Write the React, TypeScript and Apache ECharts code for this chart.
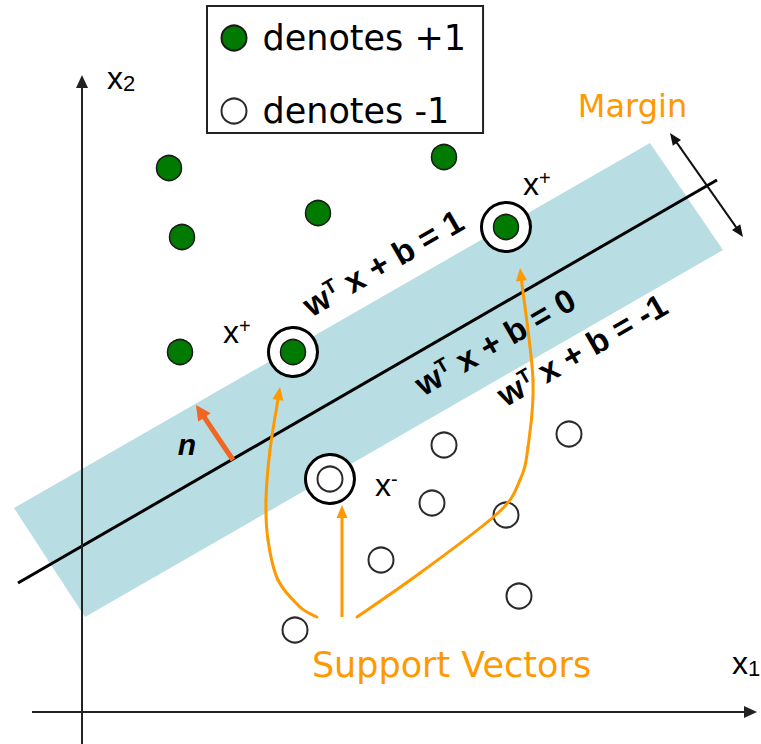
import React, { useEffect, useRef } from 'react';
import * as echarts from 'echarts';

// ---- data (units: 1 = 10 px of the original figure, origin at the axes crossing) ----
const positiveClass = [[8.7, 54.4], [10.0, 47.5], [9.8, 36.0], [23.6, 49.9], [36.2, 55.5], [21.1, 36.0], [42.4, 48.5]];
const negativeClass = [[36.2, 26.7], [48.7, 27.8], [35.0, 20.9], [42.4, 19.7], [29.9, 15.2], [43.7, 11.6], [21.3, 8.2], [24.8, 23.3]];
const supportVectors = [[21.1, 36.0], [42.4, 48.5], [24.8, 23.3]];
const hyperplane = [[-6.4, 12.9], [63.5, 53.2]];
const marginBand = [[-6.8, 20.4], [56.8, 56.9], [64.1, 46.2], [0.3, 9.5]];

const x1Axis = [[-5, 0], [67.5, 0]];
const x2Axis = [[0, -3.2], [0, 63.7]];
const marginArrow = [[58.8, 57.9], [66.1, 47.5]];
const normalVector = [[15.1, 25.2], [11.4, 30.7]];
const svArrowLeft = [[23.5, 9.5], [21.8, 10.5], [19.6, 13.2], [18.6, 17.2], [18.4, 21.2], [18.8, 26.2], [19.8, 32.5]];
const svArrowMiddle = [[26.0, 9.5], [26.0, 20.7]];
const svArrowRight = [[27.5, 9.5], [33.8, 13.9], [41.6, 19.9], [43.8, 23.2], [44.6, 26.5], [45.1, 33.2], [43.8, 44.4]];

const planeValues = ['1', '0', '-1'];
const planeLabelPos = [[30.1, 44.9], [41.3, 37.0], [50.0, 36.2]];
const svLabelSigns = ['+', '+', '-'];
const svLabelPos = [[44.1, 52.8], [14.1, 38.0], [29.3, 22.7]];
const axisIndices = ['1', '2'];
const axisNamePos = [[65.0, 4.9], [2.5, 63.4]];
const normalLabel = 'n';
const normalLabelPos = [10.5, 26.8];
const marginLabel = 'Margin';
const marginLabelPos = [55.05, 60.6];
const svCaption = 'Support Vectors';
const svCaptionPos = [36.95, 4.7];
const legendNames = ['denotes +1', 'denotes -1'];

// ---- styles ----
const ORANGE = '#FF9900';
const arrowPaths = [x1Axis, x2Axis, marginArrow, normalVector, svArrowLeft, svArrowMiddle, svArrowRight];
const arrowStyles = [
  { color: '#222', width: 2, head: 13, headW: 12, both: false, smooth: false },
  { color: '#222', width: 2, head: 13, headW: 12, both: false, smooth: false },
  { color: '#111', width: 2, head: 12, headW: 10, both: true, smooth: false },
  { color: '#F26522', width: 5, head: 15, headW: 15, both: false, smooth: false },
  { color: ORANGE, width: 3, head: 13, headW: 11, both: false, smooth: true },
  { color: ORANGE, width: 3, head: 13, headW: 11, both: false, smooth: false },
  { color: ORANGE, width: 3, head: 13, headW: 11, both: false, smooth: true },
];

const BOLD = { fontFamily: 'Liberation Sans', fontWeight: 'bold', fill: '#000' };
const PLAIN = { fontFamily: 'Liberation Sans', fill: '#000' };

type TextItem = { pos: number[]; rotation: number; style: any };

const textItems: TextItem[] = [];
planeValues.forEach((v, i) => {
  textItems.push({
    pos: planeLabelPos[i],
    rotation: Math.PI / 6,
    style: {
      text: `{w|w}{t|T}{e| x + b = ${v}}`,
      align: 'center',
      verticalAlign: 'middle',
      rich: {
        w: { ...BOLD, fontSize: 33, lineHeight: 33 },
        t: { ...BOLD, fontSize: 20, lineHeight: 20, verticalAlign: 'top' },
        e: { ...BOLD, fontSize: 33, lineHeight: 33 },
      },
    },
  });
});
svLabelSigns.forEach((s, i) => {
  textItems.push({
    pos: svLabelPos[i],
    rotation: 0,
    style: {
      text: `{x|x}{s|${s}}`,
      align: 'left',
      verticalAlign: 'middle',
      rich: {
        x: { ...PLAIN, fontSize: 32, lineHeight: 32 },
        s: { ...PLAIN, fontSize: 20, lineHeight: 26, verticalAlign: 'top' },
      },
    },
  });
});
axisIndices.forEach((s, i) => {
  textItems.push({
    pos: axisNamePos[i],
    rotation: 0,
    style: {
      text: `{x|x}{d|${s}}`,
      align: 'left',
      verticalAlign: 'middle',
      rich: {
        x: { ...PLAIN, fontSize: 32, lineHeight: 32 },
        d: { ...PLAIN, fontSize: 22, lineHeight: 8, verticalAlign: 'bottom' },
      },
    },
  });
});
textItems.push({
  pos: normalLabelPos,
  rotation: 0,
  style: { text: normalLabel, align: 'center', verticalAlign: 'middle', fontFamily: 'Liberation Sans', fontWeight: 'bold', fontStyle: 'italic', fontSize: 30, fill: '#000' },
});
textItems.push({
  pos: marginLabelPos,
  rotation: 0,
  style: { text: marginLabel, align: 'center', verticalAlign: 'middle', fontFamily: 'DejaVu Sans', fontSize: 32, fill: ORANGE },
});
textItems.push({
  pos: svCaptionPos,
  rotation: 0,
  style: { text: svCaption, align: 'center', verticalAlign: 'middle', fontFamily: 'DejaVu Sans', fontSize: 35, fill: ORANGE },
});

function renderBand(_params: any, api: any) {
  return {
    type: 'polygon',
    shape: { points: marginBand.map((p) => api.coord(p)) },
    style: { fill: '#b8dee3' },
  };
}

function renderArrow(params: any, api: any) {
  const st = arrowStyles[params.dataIndex];
  const pts = arrowPaths[params.dataIndex].map((p) => api.coord(p));
  const n = pts.length;
  const head = (tip: number[], prev: number[]) => {
    const dx = tip[0] - prev[0];
    const dy = tip[1] - prev[1];
    const len = Math.sqrt(dx * dx + dy * dy) || 1;
    const ux = dx / len;
    const uy = dy / len;
    const bx = tip[0] - ux * st.head;
    const by = tip[1] - uy * st.head;
    const hw = st.headW / 2;
    return {
      tri: [tip, [bx - uy * hw, by + ux * hw], [bx + uy * hw, by - ux * hw]],
      cut: [tip[0] - ux * st.head * 0.7, tip[1] - uy * st.head * 0.7],
    };
  };
  const endHead = head(pts[n - 1], pts[n - 2]);
  const linePts = pts.slice();
  linePts[n - 1] = endHead.cut;
  const children: any[] = [];
  let startHead: any = null;
  if (st.both) {
    startHead = head(pts[0], pts[1]);
    linePts[0] = startHead.cut;
  }
  if (st.smooth) {
    // Catmull-Rom spline through the read points, drawn as cubic Bezier pieces
    const m = linePts.length;
    for (let i = 0; i < m - 1; i++) {
      const p0 = linePts[Math.max(0, i - 1)];
      const p1 = linePts[i];
      const p2 = linePts[i + 1];
      const p3 = linePts[Math.min(m - 1, i + 2)];
      children.push({
        type: 'bezierCurve',
        shape: {
          x1: p1[0], y1: p1[1],
          cpx1: p1[0] + (p2[0] - p0[0]) / 6, cpy1: p1[1] + (p2[1] - p0[1]) / 6,
          cpx2: p2[0] - (p3[0] - p1[0]) / 6, cpy2: p2[1] - (p3[1] - p1[1]) / 6,
          x2: p2[0], y2: p2[1],
        },
        style: { stroke: st.color, lineWidth: st.width, fill: null, lineCap: 'round' },
      });
    }
  } else {
    children.push({
      type: 'polyline',
      shape: { points: linePts },
      style: { stroke: st.color, lineWidth: st.width, fill: null },
    });
  }
  children.push({ type: 'polygon', shape: { points: endHead.tri }, style: { fill: st.color } });
  if (startHead) children.push({ type: 'polygon', shape: { points: startHead.tri }, style: { fill: st.color } });
  return { type: 'group', children };
}

function renderText(params: any, api: any) {
  const item = textItems[params.dataIndex];
  const p = api.coord(item.pos);
  return {
    type: 'text',
    x: p[0],
    y: p[1],
    rotation: item.rotation,
    style: { ...item.style, x: 0, y: 0 },
  };
}

export default function App() {
  const ref = useRef<HTMLDivElement>(null);
  useEffect(() => {
    if (!ref.current) return;
    const chart = echarts.init(ref.current, undefined, { renderer: 'svg' });
    chart.setOption({
      animation: false,
      backgroundColor: '#ffffff',
      grid: { left: 0, right: 0, top: 0, bottom: 0, containLabel: false },
      xAxis: { type: 'value', min: -8.2, max: 67.9, show: false },
      yAxis: { type: 'value', min: -3.2, max: 71.2, show: false },
      legend: {
        data: legendNames,
        orient: 'vertical',
        left: 207,
        top: 6,
        padding: [14.5, 17, 4.5, 13.5],
        itemWidth: 25,
        itemHeight: 25,
        itemGap: 38,
        borderColor: '#222',
        borderWidth: 2,
        selectedMode: false,
        textStyle: { fontFamily: 'DejaVu Sans', fontSize: 35, color: '#000', padding: [0, 0, 0, 11] },
      },
      series: [
        { type: 'custom', name: 'margin', renderItem: renderBand, data: [marginBand[0]], z: 1, silent: true, clip: false },
        {
          type: 'line', name: 'hyperplane', data: hyperplane, symbol: 'none', silent: true, z: 2,
          lineStyle: { color: '#000', width: 3 },
        },
        {
          type: 'scatter', name: 'support vectors', data: supportVectors, symbolSize: 49, silent: true, z: 3,
          itemStyle: { color: '#fff', borderColor: '#000', borderWidth: 3, opacity: 1 },
        },
        {
          type: 'scatter', name: legendNames[0], data: positiveClass, symbolSize: 25, silent: true, z: 4,
          itemStyle: { color: '#007a00', borderColor: '#1a1a1a', borderWidth: 1.5, opacity: 1 },
        },
        {
          type: 'scatter', name: legendNames[1], data: negativeClass, symbolSize: 25, silent: true, z: 4,
          itemStyle: { color: '#fff', borderColor: '#2a2a2a', borderWidth: 2, opacity: 1 },
        },
        { type: 'custom', name: 'arrows', renderItem: renderArrow, data: arrowPaths.map((p) => p[0]), z: 5, silent: true, clip: false },
        { type: 'custom', name: 'labels', renderItem: renderText, data: textItems.map((t) => t.pos), z: 6, silent: true, clip: false },
      ],
    });
    return () => chart.dispose();
  }, []);
  return <div ref={ref} style={{ position: 'absolute', left: 0, top: 0, width: 761, height: 744 }} />;
}
